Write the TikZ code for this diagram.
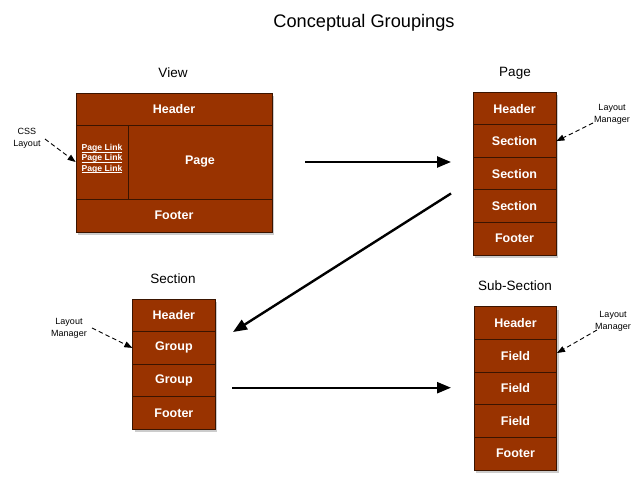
\documentclass[tikz,border=0pt]{standalone}
\usepackage{fontspec}
\setmainfont{Liberation Sans}
\usetikzlibrary{arrows.meta,shadows}
\definecolor{rust}{HTML}{993300}
\definecolor{rustedge}{HTML}{3A1400}
\newcommand{\plink}{\underline{\smash{Page Link}}}
\begin{document}
\begin{tikzpicture}[x=1pt,y=-1pt,
  cell/.style={draw=rustedge,fill=rust,line width=0.8pt,text=white,inner sep=0pt,
    font=\fontsize{12.5}{14}\selectfont\bfseries},
  grp/.style={fill=white,drop shadow={opacity=0.4,shadow xshift=2pt,shadow yshift=-3pt}},
  lbl/.style={font=\fontsize{13.5}{16}\selectfont},
  note/.style={font=\fontsize{9}{12}\selectfont,align=center,inner sep=0pt},
  bigarrow/.style={line width=2.4pt,-{Triangle[length=14pt,width=11pt]}},
  notearrow/.style={line width=0.9pt,dash pattern=on 4.5pt off 3pt,-{Triangle[length=8pt,width=6pt]}}]
\useasboundingbox (0,0) rectangle (640,492);
\fill[white] (0,0) rectangle (640,492);

\node[font=\fontsize{18.2}{22}\selectfont] (title) at (364,23) {Conceptual Groupings};

% ---------- View ----------
\node[lbl] (viewlbl) at (173,73) {View};
\fill[grp] (76,93) rectangle (272,232);
\node[cell,minimum width=196pt,minimum height=32pt] (vhead) at (174,109) {Header};
\node[cell,minimum width=52pt,minimum height=74pt,font=\fontsize{8.6}{10.3}\selectfont\bfseries,align=center] (vlinks) at (102,162)
  {\plink\\\plink\\\plink};
\node[cell,minimum width=144pt,minimum height=74pt] (vpage) at (200,162) {Page};
\node[cell,minimum width=196pt,minimum height=33pt] (vfoot) at (174,215.5) {Footer};
\node[note] (cssnote) at (27,138) {CSS\\Layout};
\coordinate (cssfrom) at (45,139);
\draw[notearrow] (cssfrom) -- (vlinks.west);

% ---------- Page ----------
\node[lbl] (pagelbl) at (515,73) {Page};
\fill[grp] (473,92.3) rectangle (556,255);
\node[cell,minimum width=83pt,minimum height=32.6pt] (p1) at (514.5,108.6) {Header};
\node[cell,minimum width=83pt,minimum height=32.6pt] (p2) at (514.5,141.1) {Section};
\node[cell,minimum width=83pt,minimum height=32.6pt] (p3) at (514.5,173.6) {Section};
\node[cell,minimum width=83pt,minimum height=32.6pt] (p4) at (514.5,206.1) {Section};
\node[cell,minimum width=83pt,minimum height=32.6pt] (p5) at (514.5,238.6) {Footer};
\node[note] (pnote) at (612,114) {Layout\\Manager};
\coordinate (pfrom) at (593,123);
\draw[notearrow] (pfrom) -- (p2.east);

% ---------- Section ----------
\node[lbl] (seclbl) at (173,279) {Section};
\fill[grp] (132.7,299) rectangle (215,429.3);
\node[cell,minimum width=82.3pt,minimum height=32.6pt] (s1) at (173.9,315.3) {Header};
\node[cell,minimum width=82.3pt,minimum height=32.6pt] (s2) at (173.9,347.9) {Group};
\node[cell,minimum width=82.3pt,minimum height=32.6pt] (s3) at (173.9,380.5) {Group};
\node[cell,minimum width=82.3pt,minimum height=32.6pt] (s4) at (173.9,413.1) {Footer};
\node[note] (snote) at (69,328) {Layout\\Manager};
\coordinate (sfrom) at (92,328);
\draw[notearrow] (sfrom) -- (s2.west);

% ---------- Sub-Section ----------
\node[lbl] (sublbl) at (515,286) {Sub-Section};
\fill[grp] (474.3,306.7) rectangle (556.7,470);
\node[cell,minimum width=82.4pt,minimum height=32.7pt] (u1) at (515.5,323) {Header};
\node[cell,minimum width=82.4pt,minimum height=32.7pt] (u2) at (515.5,355.7) {Field};
\node[cell,minimum width=82.4pt,minimum height=32.7pt] (u3) at (515.5,388.3) {Field};
\node[cell,minimum width=82.4pt,minimum height=32.7pt] (u4) at (515.5,421) {Field};
\node[cell,minimum width=82.4pt,minimum height=32.7pt] (u5) at (515.5,453.6) {Footer};
\node[note] (unote) at (613,321) {Layout\\Manager};
\coordinate (ufrom) at (597,330);
\coordinate (uto) at (557,353);
\draw[notearrow] (ufrom) -- (uto);

% ---------- main arrows ----------
\coordinate (a1s) at (305,162);
\coordinate (a1e) at (451,162);
\coordinate (a2s) at (451,193.5);
\coordinate (a2e) at (233,332);
\coordinate (a3s) at (232,387.7);
\coordinate (a3e) at (451,387.7);
\draw[bigarrow] (a1s) -- (a1e);
\draw[bigarrow] (a2s) -- (a2e);
\draw[bigarrow] (a3s) -- (a3e);
\end{tikzpicture}
\end{document}
